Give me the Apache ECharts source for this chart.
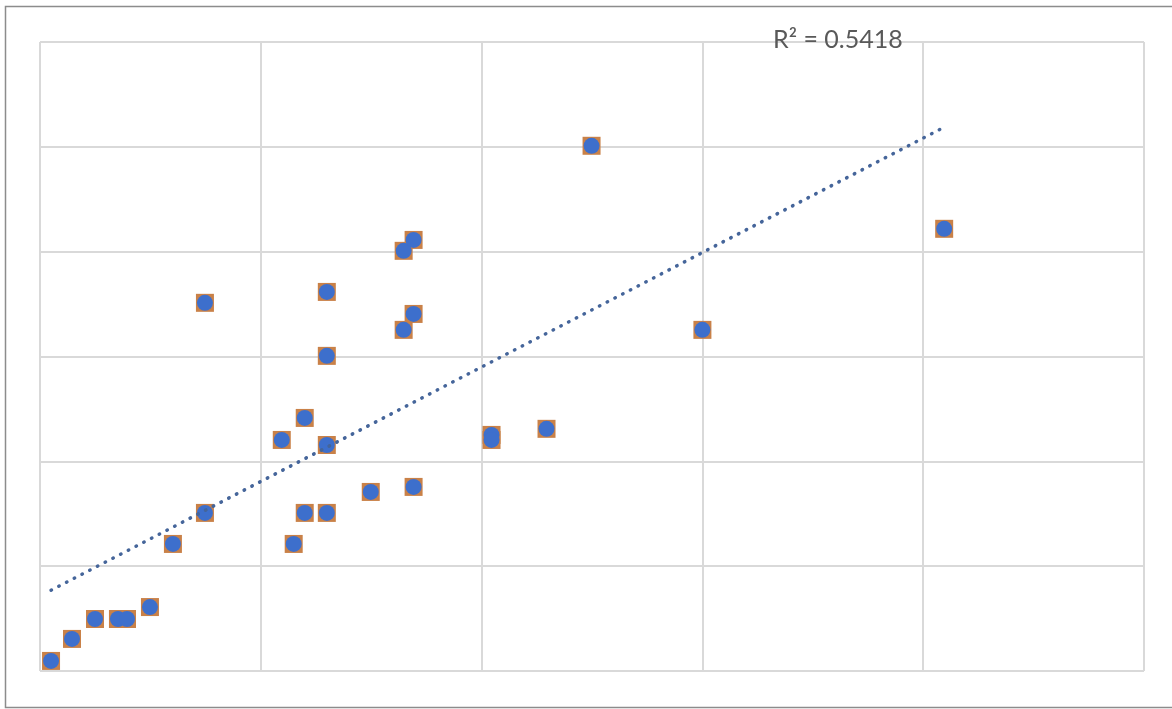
<!DOCTYPE html>
<html>
<head>
<meta charset="utf-8">
<script src="https://cdn.jsdelivr.net/npm/echarts@6/dist/echarts.min.js"></script>
<style>
html,body{margin:0;padding:0;background:#fff;}
#chart{width:1172px;height:709px;}
</style>
</head>
<body>
<div id="chart"></div>
<script>
// Data (arbitrary units: x grid step 10, y grid step 5)
const xValues = [0.5, 1.45, 2.49, 3.53, 3.94, 4.98, 6.02, 7.47, 7.47, 10.95, 11.49, 11.99, 11.99, 12.99, 12.99, 12.99, 12.99, 14.98, 16.47, 16.92, 16.47, 16.92, 16.92, 20.45, 20.45, 22.94, 24.98, 30.0, 40.95];
const yValues = [0.48, 1.53, 2.48, 2.48, 2.48, 3.05, 6.06, 7.54, 17.56, 11.02, 6.06, 12.07, 7.54, 7.54, 10.78, 15.03, 18.08, 8.54, 20.04, 20.56, 16.27, 17.03, 8.78, 11.26, 11.02, 11.55, 25.05, 16.27, 21.09];
const r2Label = 'R² = 0.5418';

const points = xValues.map((x, i) => [x, yValues[i]]);

// least-squares linear trend from the data
const n = xValues.length;
const mx = xValues.reduce((a, b) => a + b, 0) / n;
const my = yValues.reduce((a, b) => a + b, 0) / n;
let sxy = 0, sxx = 0;
for (let i = 0; i < n; i++) { sxy += (xValues[i] - mx) * (yValues[i] - my); sxx += (xValues[i] - mx) ** 2; }
const slope = sxy / sxx;
const intercept = my - slope * mx;
const xMin = Math.min(...xValues), xMax = Math.max(...xValues);
const trend = [[xMin, intercept + slope * xMin], [xMax, intercept + slope * xMax]];

const chart = echarts.init(document.getElementById('chart'));
chart.setOption({
  animation: false,
  backgroundColor: '#ffffff',
  graphic: [{
    type: 'rect', silent: true, z: -1,
    shape: { x: 5.5, y: 6.5, width: 1175, height: 701 },
    style: { fill: 'none', stroke: '#8c8c8c', lineWidth: 1.5 }
  }, {
    type: 'text', left: 773, top: 27, z: 100,
    style: { text: r2Label, font: '25px Lato, "Open Sans", sans-serif', fill: '#595959' }
  }],
  grid: { left: 40, top: 42, right: 28, bottom: 38 },
  xAxis: {
    type: 'value', min: 0, max: 50, interval: 10,
    axisLine: { show: false }, axisTick: { show: false }, axisLabel: { show: false },
    splitLine: { show: true, lineStyle: { color: '#d9d9d9', width: 2 } }
  },
  yAxis: {
    type: 'value', min: 0, max: 30, interval: 5,
    axisLine: { show: false }, axisTick: { show: false }, axisLabel: { show: false },
    splitLine: { show: true, lineStyle: { color: '#d9d9d9', width: 2 } }
  },
  series: [{
    type: 'scatter', data: points, symbol: 'rect', symbolSize: 18, z: 2,
    itemStyle: { color: '#c98148', opacity: 1 }
  }, {
    type: 'scatter', data: points, symbol: 'circle', symbolSize: 16, z: 3,
    itemStyle: { color: '#3d6fcc', opacity: 1 }
  }, {
    type: 'line', data: trend, symbol: 'none', z: 4,
    lineStyle: { color: '#45659a', width: 3.5, type: [0.5, 8.2], cap: 'round' }
  }]
});
</script>
</body>
</html>
